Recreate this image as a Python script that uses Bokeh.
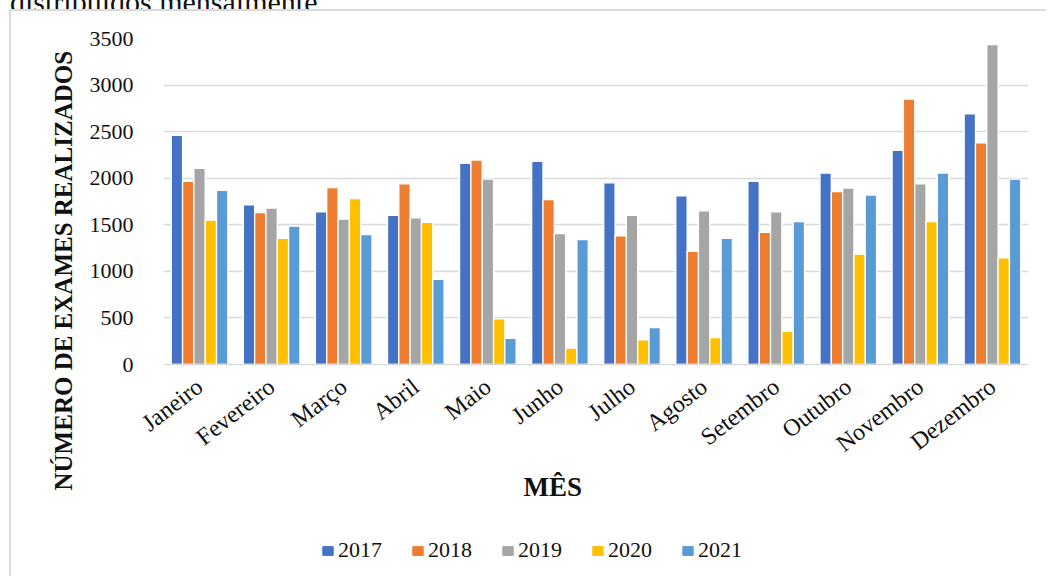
import math
from bokeh.plotting import figure
from bokeh.layouts import column
from bokeh.models import (ColumnDataSource, FactorRange, Range1d, Legend, LegendItem, Title, Div)
from bokeh.transform import dodge
from bokeh.embed import file_html
from bokeh.resources import INLINE

caption = "distribuídos mensalmente"
months = ["Janeiro", "Fevereiro", "Março", "Abril", "Maio", "Junho", "Julho",
          "Agosto", "Setembro", "Outubro", "Novembro", "Dezembro"]
years = ["2017", "2018", "2019", "2020", "2021"]
v2017 = [2460, 1715, 1640, 1600, 2160, 2180, 1950, 1810, 1965, 2055, 2300, 2690]
v2018 = [1965, 1630, 1900, 1940, 2195, 1770, 1380, 1215, 1420, 1855, 2850, 2380]
v2019 = [2105, 1680, 1560, 1575, 1990, 1405, 1600, 1650, 1640, 1895, 1940, 3435]
v2020 = [1550, 1355, 1780, 1525, 490, 175, 265, 290, 355, 1185, 1535, 1145]
v2021 = [1870, 1485, 1395, 915, 280, 1340, 395, 1355, 1535, 1820, 2055, 1990]
colors = ["#4472C4", "#ED7D31", "#A5A5A5", "#FFC000", "#5B9BD5"]
y_ticks = [0, 500, 1000, 1500, 2000, 2500, 3000, 3500]

source = ColumnDataSource(dict(month=months, y2017=v2017, y2018=v2018,
                               y2019=v2019, y2020=v2020, y2021=v2021))

SERIF = "Liberation Serif"
TXT = "#111111"

p = figure(width=1035, height=513, x_range=FactorRange(*months),
           y_range=Range1d(0, 3500), output_backend="svg", toolbar_location=None,
           min_border_left=152, min_border_right=18, min_border_top=27,
           min_border_bottom=160)
p.outline_line_color = None
p.background_fill_color = "white"
p.border_fill_color = "white"

slot = 0.157
offsets = [-2 * slot, -slot, 0, slot, 2 * slot]
for yr, off, col in zip(years, offsets, colors):
    p.vbar(x=dodge("month", off, range=p.x_range), top="y" + yr, width=slot,
           source=source, fill_color=col, line_color="white", line_width=1.3)

p.xgrid.grid_line_color = None
p.ygrid.grid_line_color = "#d9d9d9"
p.ygrid.grid_line_width = 1.6
p.yaxis.ticker = y_ticks
p.yaxis.axis_line_color = None
p.yaxis.major_tick_line_color = None
p.yaxis.minor_tick_line_color = None
p.yaxis.major_label_standoff = 24
p.yaxis.major_label_text_font = SERIF
p.yaxis.major_label_text_font_size = "22px"
p.yaxis.major_label_text_color = TXT

p.xaxis.axis_line_color = "#d9d9d9"
p.xaxis.axis_line_width = 1.6
p.xaxis.major_tick_line_color = None
p.xaxis.minor_tick_line_color = None
p.xaxis.major_label_orientation = 0.66
p.xaxis.major_label_standoff = 13
p.xaxis.major_label_text_font = SERIF
p.xaxis.major_label_text_font_size = "24px"
p.xaxis.major_label_text_color = TXT

ytitle = Title(text="NÚMERO DE EXAMES REALIZADOS", align="left", offset=-126,
               text_font=SERIF, text_font_size="25px", text_font_style="bold",
               text_color=TXT, standoff=20)
p.add_layout(ytitle, "left")

xtitle = Title(text="MÊS", align="left", offset=360, text_font=SERIF,
               text_font_size="27px", text_font_style="bold", text_color=TXT, standoff=0)
p.add_layout(xtitle, "below")

# legend in its own strip below the chart
leg = figure(width=1035, height=52, x_axis_type=None, y_axis_type=None,
             x_range=Range1d(10, 11), y_range=Range1d(10, 11),
             output_backend="svg", toolbar_location=None, min_border=0)
leg.outline_line_color = None
leg.xgrid.visible = False
leg.ygrid.visible = False
items = []
for yr, col in zip(years, colors):
    r = leg.vbar(x=[0], top=[0], width=0.1, fill_color=col, line_color=col, line_width=1)
    items.append(LegendItem(label=yr, renderers=[r]))
legend = Legend(items=items, orientation="horizontal", location=(158, 13),
                glyph_width=13, glyph_height=11, label_standoff=4, spacing=29,
                padding=0, margin=0, border_line_color=None, background_fill_alpha=0,
                label_text_font=SERIF, label_text_font_size="22px",
                label_text_color=TXT)
leg.add_layout(legend)

cap = Div(text=('<span style="display:block;margin-top:-18px;margin-left:10px;'
                'font-family:\'Liberation Serif\';font-size:30px;line-height:30px;'
                'color:#111111;white-space:nowrap">' + caption + '</span>'),
          width=1040, height=9, margin=0, styles={"overflow": "hidden"})

inner = column(p, leg, spacing=0,
               styles={"margin-left": "9px",
                       "border-left": "2px solid #d9d9d9", "border-top": "2px solid #d9d9d9"})
layout = column(cap, inner, spacing=0)

open("out.html", "w").write(file_html(layout, INLINE))
